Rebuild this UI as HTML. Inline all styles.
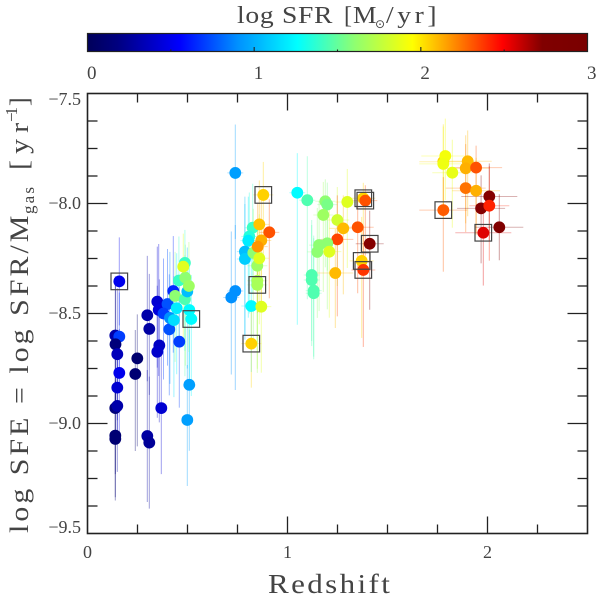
<!DOCTYPE html>
<html lang="en">
<head>
<meta charset="utf-8">
<title>SFE vs Redshift</title>
<style>
html,body{margin:0;padding:0;background:#fff;}
svg{display:block;}
text{font-family:"Liberation Serif","DejaVu Serif",serif;fill:#444;}
</style>
</head>
<body>
<svg id="chart" xmlns="http://www.w3.org/2000/svg" width="600" height="596" viewBox="0 0 600 596">
<defs>
<linearGradient id="jet" x1="0" x2="1" y1="0" y2="0">
<stop offset="0" stop-color="#00005a"/><stop offset="0.06" stop-color="#000080"/><stop offset="0.185" stop-color="#0000ff"/><stop offset="0.30" stop-color="#0090ff"/><stop offset="0.42" stop-color="#00ffff"/><stop offset="0.535" stop-color="#90ff70"/><stop offset="0.65" stop-color="#ffff00"/><stop offset="0.73" stop-color="#ff9000"/><stop offset="0.83" stop-color="#ff0000"/><stop offset="0.91" stop-color="#800000"/><stop offset="1" stop-color="#7a0000"/>
</linearGradient>
</defs>
<text transform="translate(237,23) scale(1.15,1)" font-size="24" textLength="83" lengthAdjust="spacing">log SFR</text>
<text x="344" y="23" font-size="24">[</text>
<text transform="translate(353,23) scale(1.1,1)" font-size="24">M</text>
<text x="375" y="28" font-size="12" style="font-family:'DejaVu Sans',sans-serif">⊙</text>
<text transform="translate(386,23) scale(1.15,1)" font-size="24" textLength="44" lengthAdjust="spacing">/yr]</text>
<rect x="87.5" y="33.5" width="500" height="18" fill="url(#jet)" stroke="#222" stroke-width="1.2"/>
<g id="colorbar-ticks"></g>
<g id="error-bars"></g>
<g id="points"></g>
<g id="boxes"></g>
<rect x="87.5" y="93.5" width="500" height="440" fill="none" stroke="#222" stroke-width="1.6"/>
<g id="axis-ticks"></g>
<g id="axis-labels"></g>
<text transform="translate(268,593) scale(1.15,1)" font-size="27" textLength="106" lengthAdjust="spacing">Redshift</text>
<g>
<text transform="translate(28,533) rotate(-90) scale(1.15,1)" font-size="26" textLength="276" lengthAdjust="spacing">log SFE = log SFR/M</text>
<text transform="translate(34,214) rotate(-90)" font-size="17" textLength="27" lengthAdjust="spacing">gas</text>
<text transform="translate(28,170) rotate(-90) scale(1.15,1)" font-size="26" textLength="41" lengthAdjust="spacing">[yr</text>
<text transform="translate(17,122) rotate(-90)" font-size="17" textLength="15" lengthAdjust="spacing">−1</text>
<text transform="translate(28,106) rotate(-90)" font-size="26">]</text>
</g>
</svg>
<script>
const redshift = [
0.159,0.139,0.159,0.14,0.149,0.159,0.149,0.139,0.149,0.139,0.139,0.249,0.239,0.299,0.309,0.299,0.309,0.359,0.349,0.369,0.349,0.356,0.409,0.459,0.509,0.499,0.429,0.4,0.38,0.412,0.432,0.446,0.438,0.487,0.499,0.457,0.489,0.487,0.479,0.507,0.509,0.519,
0.739,0.879,0.826,0.809,0.804,0.787,0.787,0.829,0.849,0.849,0.849,0.739,0.719,0.819,0.869,0.819,0.859,0.909,0.869,0.851,0.859,
1.049,1.099,1.189,1.199,1.179,1.299,1.249,1.279,1.351,1.379,1.389,1.249,1.411,1.158,1.199,1.149,1.209,1.371,1.379,1.239,1.121,1.121,1.131,1.131,
1.779,1.789,1.779,1.824,1.901,1.891,1.943,1.891,1.943,2.009,1.968,2.009,1.779,1.979,2.059
];
const sfe = [
-8.354,-8.6,-8.605,-8.64,-8.685,-8.77,-8.837,-8.93,-8.92,-9.055,-9.07,-8.704,-8.775,-8.508,-8.57,-9.057,-9.087,-8.645,-8.674,-8.93,-8.446,-8.484,-8.572,-8.628,-8.824,-8.984,-8.398,-8.457,-8.5,-8.52,-8.53,-8.476,-8.42,-8.435,-8.4,-8.35,-8.337,-8.27,-8.287,-8.375,-8.484,-8.525,
-7.861,-7.961,-8.11,-8.15,-8.169,-8.219,-8.252,-8.224,-8.283,-8.351,-8.37,-8.398,-8.427,-8.466,-8.469,-8.637,-8.095,-8.131,-8.168,-8.196,-8.249,
-7.951,-7.985,-7.99,-8.005,-8.052,-7.993,-8.075,-8.113,-8.108,-7.976,-7.987,-8.163,-8.183,-8.189,-8.181,-8.22,-8.219,-8.261,-8.302,-8.316,-8.325,-8.348,-8.396,-8.408,
-7.81,-7.784,-7.82,-7.86,-7.808,-7.84,-7.837,-7.93,-7.942,-7.968,-8.022,-8.01,-8.03,-8.133,-8.108
];
const logSfr = [
0.5,0.3,0.7,0.15,0.35,0.5,0.42,0.15,0.3,0.12,0.12,0.1,0.12,0.3,0.28,0.28,0.25,0.38,0.4,0.42,0.42,0.45,0.75,0.7,0.95,0.95,0.65,0.75,0.7,0.9,1.15,1.2,1.6,1.45,1.05,1.4,1.6,1.4,1.85,1.65,1.25,1.25,
0.95,2.05,1.4,1.35,1.2,1.05,1.1,1.6,1.65,1.7,1.68,0.9,0.9,1.25,1.85,2.05,2.08,2.32,2.12,2.18,1.85,
1.25,1.45,1.6,1.55,1.65,1.85,1.8,2.1,2.32,2.05,2.32,2.35,2.72,1.6,1.6,1.6,1.85,2.05,2.38,2.1,1.45,1.45,1.45,1.45,
2.05,1.92,1.9,1.88,2.1,2.12,2.32,2.25,2.12,2.72,2.72,2.42,2.3,2.55,2.75
];
const errUp = [
0.2,0.27,0.2,0.3,0.3,0.2,0.2,0.25,0.25,0.25,0.25,0.2,0.2,0.27,0.25,0.3,0.3,0.3,0.3,0.3,0.25,0.3,0.25,0.25,0.25,0.25,0.25,0.25,0.25,0.3,0.2,0.25,0.2,0.2,0.2,0.2,0.15,0.15,0.15,0.2,0.2,0.2,
0.22,0.15,0.2,0.2,0.2,0.25,0.25,0.2,0.2,0.2,0.2,0.3,0.3,0.25,0.2,0.2,0.2,0.15,0.2,0.2,0.2,
0.18,0.2,0.1,0.1,0.15,0.15,0.15,0.15,0.15,0.07,0.07,0.2,0.15,0.2,0.2,0.2,0.2,0.2,0.2,0.2,0.25,0.25,0.25,0.25,
0.17,0.17,0.17,0.15,0.14,0.15,0.1,0.2,0.15,0.15,0.15,0.18,0.15,0.12,0.15
];
const errDown = [
0.2,0.3,0.25,0.3,0.3,0.3,0.25,0.3,0.3,0.28,0.28,0.4,0.35,0.3,0.3,0.3,0.3,0.35,0.3,0.3,0.3,0.3,0.3,0.3,0.3,0.3,0.28,0.28,0.3,0.3,0.35,0.3,0.3,0.35,0.35,0.3,0.4,0.4,0.35,0.3,0.35,0.35,
0.3,0.3,0.3,0.35,0.35,0.4,0.35,0.4,0.35,0.4,0.4,0.45,0.35,0.3,0.3,0.2,0.3,0.3,0.3,0.3,0.3,
0.6,0.45,0.3,0.3,0.35,0.3,0.3,0.3,0.3,0.3,0.25,0.35,0.3,0.3,0.3,0.3,0.3,0.35,0.35,0.25,0.3,0.3,0.3,0.3,
0.25,0.2,0.25,0.25,0.25,0.25,0.3,0.2,0.2,0.2,0.25,0.25,0.28,0.24,0.15
];
const zErr = [
0.02,0.02,0.02,0.02,0.02,0.02,0.02,0.02,0.02,0.02,0.02,0.02,0.02,0.02,0.02,0.02,0.02,0.02,0.02,0.02,0.02,0.02,0.02,0.02,0.02,0.02,0.02,0.02,0.02,0.02,0.02,0.02,0.02,0.02,0.02,0.02,0.02,0.02,0.02,0.02,0.02,0.02,
0.04,0.05,0.04,0.04,0.04,0.04,0.04,0.05,0.05,0.05,0.05,0.04,0.04,0.05,0.05,0.05,0.05,0.05,0.05,0.05,0.05,
0.04,0.04,0.05,0.05,0.05,0.06,0.06,0.07,0.08,0.06,0.06,0.08,0.07,0.05,0.05,0.05,0.06,0.06,0.06,0.09,0.04,0.04,0.04,0.04,
0.12,0.12,0.12,0.1,0.12,0.12,0.13,0.1,0.12,0.14,0.12,0.1,0.12,0.14,0.12
];
const boxedIndex = [0,41,43,52,57,72,73,75,80,81,99,100];
const xTickLabels = ["0","1","2"];
const yTickLabels = ["−7.5","−8.0","−8.5","−9.0","−9.5"];
const cbarTickLabels = ["0","1","2","3"];

const NS = "http://www.w3.org/2000/svg";
const PLOT = {x0:87.5, x1:587.5, y0:93.5, y1:533.5, zMax:2.5, yTop:-7.5, yBot:-9.5};
function xScale(z){ return PLOT.x0 + z/PLOT.zMax*(PLOT.x1-PLOT.x0); }
function yScale(v){ return PLOT.y0 + (PLOT.yTop-v)/(PLOT.yTop-PLOT.yBot)*(PLOT.y1-PLOT.y0); }
function cbarX(v){ return PLOT.x0 + v/3*(PLOT.x1-PLOT.x0); }

const cmap = [[0,0,0,90],[0.06,0,0,128],[0.185,0,0,255],[0.30,0,144,255],[0.42,0,255,255],[0.535,144,255,112],[0.65,255,255,0],[0.73,255,144,0],[0.83,255,0,0],[0.91,128,0,0],[1,122,0,0]];
function color(v){
  const t = Math.max(0,Math.min(1,v/3));
  for(let i=1;i<cmap.length;i++){
    if(t<=cmap[i][0]){
      const a=cmap[i-1], b=cmap[i], f=(t-a[0])/(b[0]-a[0]);
      return "rgb("+[1,2,3].map(function(k){return Math.round(a[k]+(b[k]-a[k])*f);}).join(",")+")";
    }
  }
  return "rgb(122,0,0)";
}
function line(parent,x1,y1,x2,y2,stroke,w,op){
  const l=document.createElementNS(NS,"line");
  l.setAttribute("x1",x1);l.setAttribute("y1",y1);l.setAttribute("x2",x2);l.setAttribute("y2",y2);
  l.setAttribute("stroke",stroke);l.setAttribute("stroke-width",w);
  if(op!==undefined)l.setAttribute("stroke-opacity",op);
  parent.appendChild(l);
  return l;
}
function label(parent,x,y,str,size,anchor){
  const t=document.createElementNS(NS,"text");
  t.setAttribute("x",x);t.setAttribute("y",y);t.setAttribute("font-size",size);t.setAttribute("text-anchor",anchor);
  t.textContent=str;
  parent.appendChild(t);
  return t;
}

const gErr=document.getElementById("error-bars"), gPts=document.getElementById("points"), gBox=document.getElementById("boxes");
redshift.forEach(function(z,i){
  const c=color(logSfr[i]), px=xScale(z), py=yScale(sfe[i]);
  const v=line(gErr,px,yScale(sfe[i]+errUp[i]),px,yScale(sfe[i]-errDown[i]),c,1,0.38);
  
  
  const h=line(gErr,xScale(z-zErr[i]),py,xScale(z+zErr[i]),py,c,1,0.3);
  
  
  const p=document.createElementNS(NS,"circle");
  p.setAttribute("cx",px);p.setAttribute("cy",py);p.setAttribute("r",5.9);p.setAttribute("fill",c);
  
  
  gPts.appendChild(p);
});
boxedIndex.forEach(function(i){
  const r=document.createElementNS(NS,"rect");
  r.setAttribute("x",xScale(redshift[i])-8.3);r.setAttribute("y",yScale(sfe[i])-8.3);
  r.setAttribute("width",16.6);r.setAttribute("height",16.6);
  r.setAttribute("fill","none");r.setAttribute("stroke","#444");r.setAttribute("stroke-width",1.2);
  
  
  gBox.appendChild(r);
});

const gT=document.getElementById("axis-ticks"), gL=document.getElementById("axis-labels"), gC=document.getElementById("colorbar-ticks");
for(let k=1;k<10;k++){
  const z=k*0.25, major=(k%4===0), len=major?17:9, px=xScale(z);
  line(gT,px,PLOT.y0,px,PLOT.y0+len,"#222",1.3);
  line(gT,px,PLOT.y1,px,PLOT.y1-len,"#222",1.3);
}
for(let k=1;k<16;k++){
  const v=PLOT.yTop-k*0.125, major=(k%4===0), len=major?20:10, py=yScale(v);
  line(gT,PLOT.x0,py,PLOT.x0+len,py,"#222",1.3);
  line(gT,PLOT.x1,py,PLOT.x1-len,py,"#222",1.3);
}
xTickLabels.forEach(function(s,i){
  const t=label(gL,xScale(i),558,s,18,"middle");
  
  
});
const yLabelBase=[105,209,319,429,533];
yTickLabels.forEach(function(s,i){
  const t=label(gL,81,yLabelBase[i],s,18,"end");
  
  
});
for(let k=1;k<6;k++){
  const v=k*0.5, px=cbarX(v);
  line(gC,px,51.5,px,k%2===0?47:49.5,"#222",1.1);
}
cbarTickLabels.forEach(function(s,i){
  const t=label(gC,cbarX(i)+4.3,79,s,19,"middle");
  
  
});
</script>
</body>
</html>
